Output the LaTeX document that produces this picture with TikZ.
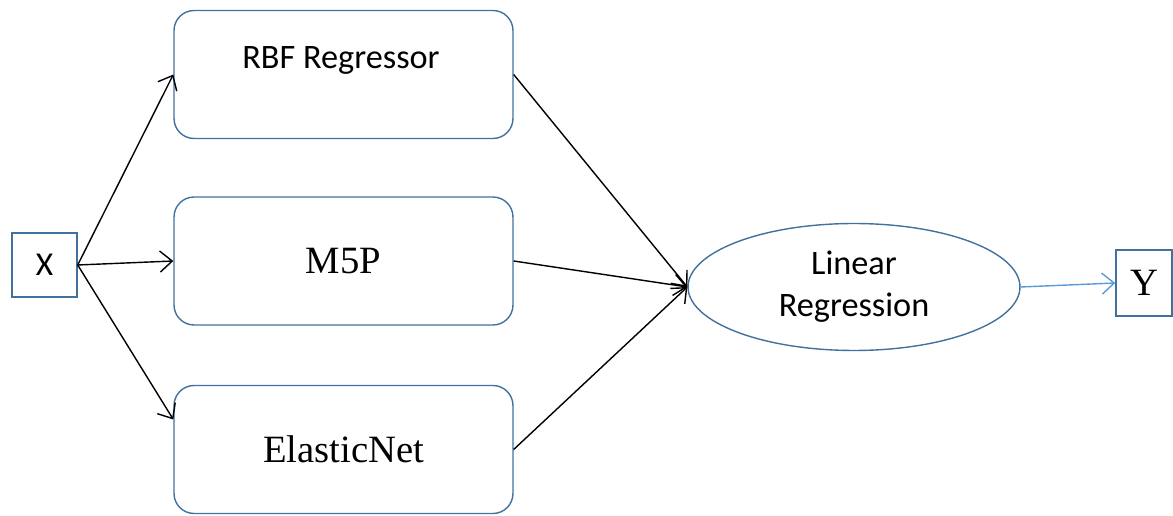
\documentclass[tikz,border=0pt]{standalone}
\usepackage{fontspec}
\setmainfont{Liberation Serif}
\newfontfamily\calibri{Carlito}
\usepackage{tikz}
\usetikzlibrary{shapes.geometric,arrows.meta}
\definecolor{edgeblue}{HTML}{41719C}
\definecolor{outblue}{HTML}{5B9BD5}

\begin{document}
\begin{tikzpicture}[x=0.02cm,y=-0.02cm,>={Straight Barb[length=7pt,width=12pt]},
    model/.style={draw=edgeblue,line width=0.8pt,rounded corners=0.4cm,minimum width=6.78cm,minimum height=2.56cm,inner sep=0pt},
    io/.style={draw=edgeblue,line width=0.8pt,inner sep=0pt},
    link/.style={->,line width=0.8pt}]
        \useasboundingbox (0,0) rectangle (1173,516);
        \node[io,minimum width=1.3cm,minimum height=1.28cm,font=\calibri\fontsize{19}{23}\selectfont] (xin) at (44.5,265) {X};
        \node[model] (rbf) at (343.5,74.5) {};
        \node[font=\calibri\fontsize{19.5}{23}\selectfont] (rbftext) at (341,60) {RBF Regressor};
        \node[model,font=\fontsize{22}{26}\selectfont] (m5p) at (343.5,261) {M5P};
        \node[model,font=\fontsize{22}{26}\selectfont] (enet) at (343.5,449.5) {ElasticNet};
        \node[draw=edgeblue,line width=0.8pt,ellipse,minimum width=6.64cm,minimum height=2.54cm,inner sep=0pt,align=center,
              font=\calibri\fontsize{19.5}{24}\selectfont] (lr) at (854,287) {Linear\\Regression};
        \node[io,minimum width=1.12cm,minimum height=1.32cm,font=\fontsize{22}{26}\selectfont] (yout) at (1144,283) {Y};
        \foreach \m/\a in {rbf/west,m5p/west,enet/170}{\draw[link] (xin.east) -- (\m.\a);}
        \foreach \m in {rbf,m5p,enet}{\draw[link] (\m.east) -- (lr.west);}
        \draw[link,outblue] (lr.east) -- (yout.west);
      \end{tikzpicture}
\end{document}
